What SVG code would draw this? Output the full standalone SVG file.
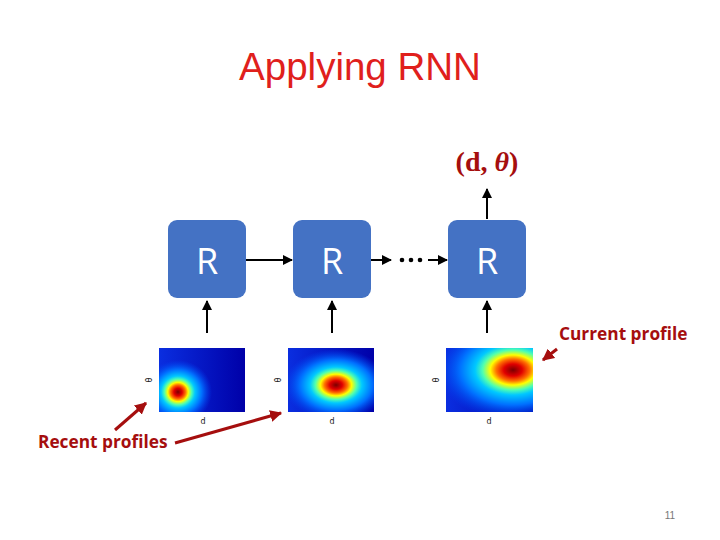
<svg xmlns="http://www.w3.org/2000/svg" width="720" height="540" viewBox="0 0 720 540">
<style>
.title{font-family:"Liberation Sans",Calibri,sans-serif;font-size:38.5px;fill:#e0201c}
.box{fill:#4472c4}
.r{font-family:"Open Sans","Liberation Sans",sans-serif;font-size:36px;fill:#fff;text-anchor:middle}
.ln{stroke:#000;stroke-width:2;fill:none}
.red{stroke:#a50e0e;stroke-width:3;fill:none}
.lbl{font-family:"Open Sans","Liberation Sans",sans-serif;font-size:17.3px;font-weight:bold;fill:#a50e0e}
.ax{font-family:"DejaVu Sans",sans-serif;font-size:8px;fill:#222;text-anchor:middle}
</style>
<defs>
<marker id="ah" viewBox="0 0 10 10" refX="9" refY="5" markerWidth="5" markerHeight="5" orient="auto"><path d="M0,0L10,5L0,10z" fill="#000"/></marker>
<marker id="rh" viewBox="0 0 10 10" refX="9" refY="5" markerWidth="4" markerHeight="4" orient="auto"><path d="M0,0L10,5L0,10z" fill="#a50e0e"/></marker>
<linearGradient id="bg" x1="0" y1="0" x2="1" y2="0"><stop offset="0" stop-color="#0a2ee0"/><stop offset="1" stop-color="#0000a8"/></linearGradient>
<radialGradient id="jet">
<stop offset="0" stop-color="#7a0000"/>
<stop offset="0.12" stop-color="#e00000"/>
<stop offset="0.22" stop-color="#ff7000"/>
<stop offset="0.3" stop-color="#ffff00"/>
<stop offset="0.4" stop-color="#50ffb0"/>
<stop offset="0.5" stop-color="#00c8ff"/>
<stop offset="0.7" stop-color="#0070ff"/>
<stop offset="1" stop-color="#0040f0" stop-opacity="0"/>
</radialGradient>
<clipPath id="c1"><rect x="159" y="348" width="86" height="64"/></clipPath>
<clipPath id="c2"><rect x="288" y="348" width="86" height="64"/></clipPath>
<clipPath id="c3"><rect x="446" y="348" width="87" height="64"/></clipPath>
</defs>
<rect width="720" height="540" fill="#fff"/>
<text class="title" x="360" y="80" text-anchor="middle">Applying RNN</text>
<g id="node-r1"><rect class="box" x="168" y="220" width="78" height="78" rx="9"/><text class="r" x="207" y="274">R</text></g>
<g id="node-r2"><rect class="box" x="293" y="220" width="78" height="78" rx="9"/><text class="r" x="332" y="274">R</text></g>
<g id="node-r3"><rect class="box" x="448" y="220" width="78" height="78" rx="9"/><text class="r" x="487" y="274">R</text></g>
<g id="node-out"><text x="487" y="171" text-anchor="middle" font-family="'Liberation Serif',serif" font-size="28" font-weight="bold" fill="#a50e0e">(d, <tspan font-style="italic">θ</tspan>)</text></g>
<g id="node-dots"><circle cx="402" cy="260" r="2.3"/><circle cx="411" cy="260" r="2.3"/><circle cx="420" cy="260" r="2.3"/></g>
<g id="node-h1" clip-path="url(#c1)">
<rect x="159" y="348" width="86" height="64" fill="url(#bg)"/>
<ellipse cx="178" cy="392" rx="34" ry="32" fill="url(#jet)"/>
</g>
<g id="node-h2" clip-path="url(#c2)">
<rect x="288" y="348" width="86" height="64" fill="url(#bg)"/>
<ellipse cx="336" cy="385" rx="52" ry="36" fill="url(#jet)"/>
</g>
<g id="node-h3" clip-path="url(#c3)">
<rect x="446" y="348" width="87" height="64" fill="url(#bg)"/>
<ellipse cx="513" cy="370" rx="76" ry="50" fill="url(#jet)"/>
</g>
<g id="axes">
<text class="ax" x="203" y="424">d</text>
<text class="ax" x="332" y="424">d</text>
<text class="ax" x="489" y="424">d</text>
<text class="ax" transform="translate(152,380) rotate(-90)">θ</text>
<text class="ax" transform="translate(281,380) rotate(-90)">θ</text>
<text class="ax" transform="translate(439,380) rotate(-90)">θ</text>
</g>
<g id="labels">
<text class="lbl" x="38" y="448">Recent profiles</text>
<text class="lbl" x="559" y="340">Current profile</text>
<text x="670" y="519" text-anchor="middle" font-family="'Liberation Sans',sans-serif" font-size="10" fill="#777">11</text>
</g>
<g id="connectors">
<line class="ln" x1="246" y1="260" x2="292" y2="260" marker-end="url(#ah)"/>
<line class="ln" x1="371" y1="260" x2="391" y2="260" marker-end="url(#ah)"/>
<line class="ln" x1="428" y1="260" x2="447" y2="260" marker-end="url(#ah)"/>
<line class="ln" x1="207" y1="333" x2="207" y2="301" marker-end="url(#ah)"/>
<line class="ln" x1="332" y1="333" x2="332" y2="301" marker-end="url(#ah)"/>
<line class="ln" x1="487" y1="333" x2="487" y2="301" marker-end="url(#ah)"/>
<line class="ln" x1="487" y1="219" x2="487" y2="189" marker-end="url(#ah)"/>
<line class="red" x1="115" y1="430" x2="146" y2="403" marker-end="url(#rh)"/>
<line class="red" x1="175" y1="443" x2="281" y2="413" marker-end="url(#rh)"/>
<line class="red" x1="557" y1="349" x2="543" y2="360" marker-end="url(#rh)"/>
</g>
</svg>
